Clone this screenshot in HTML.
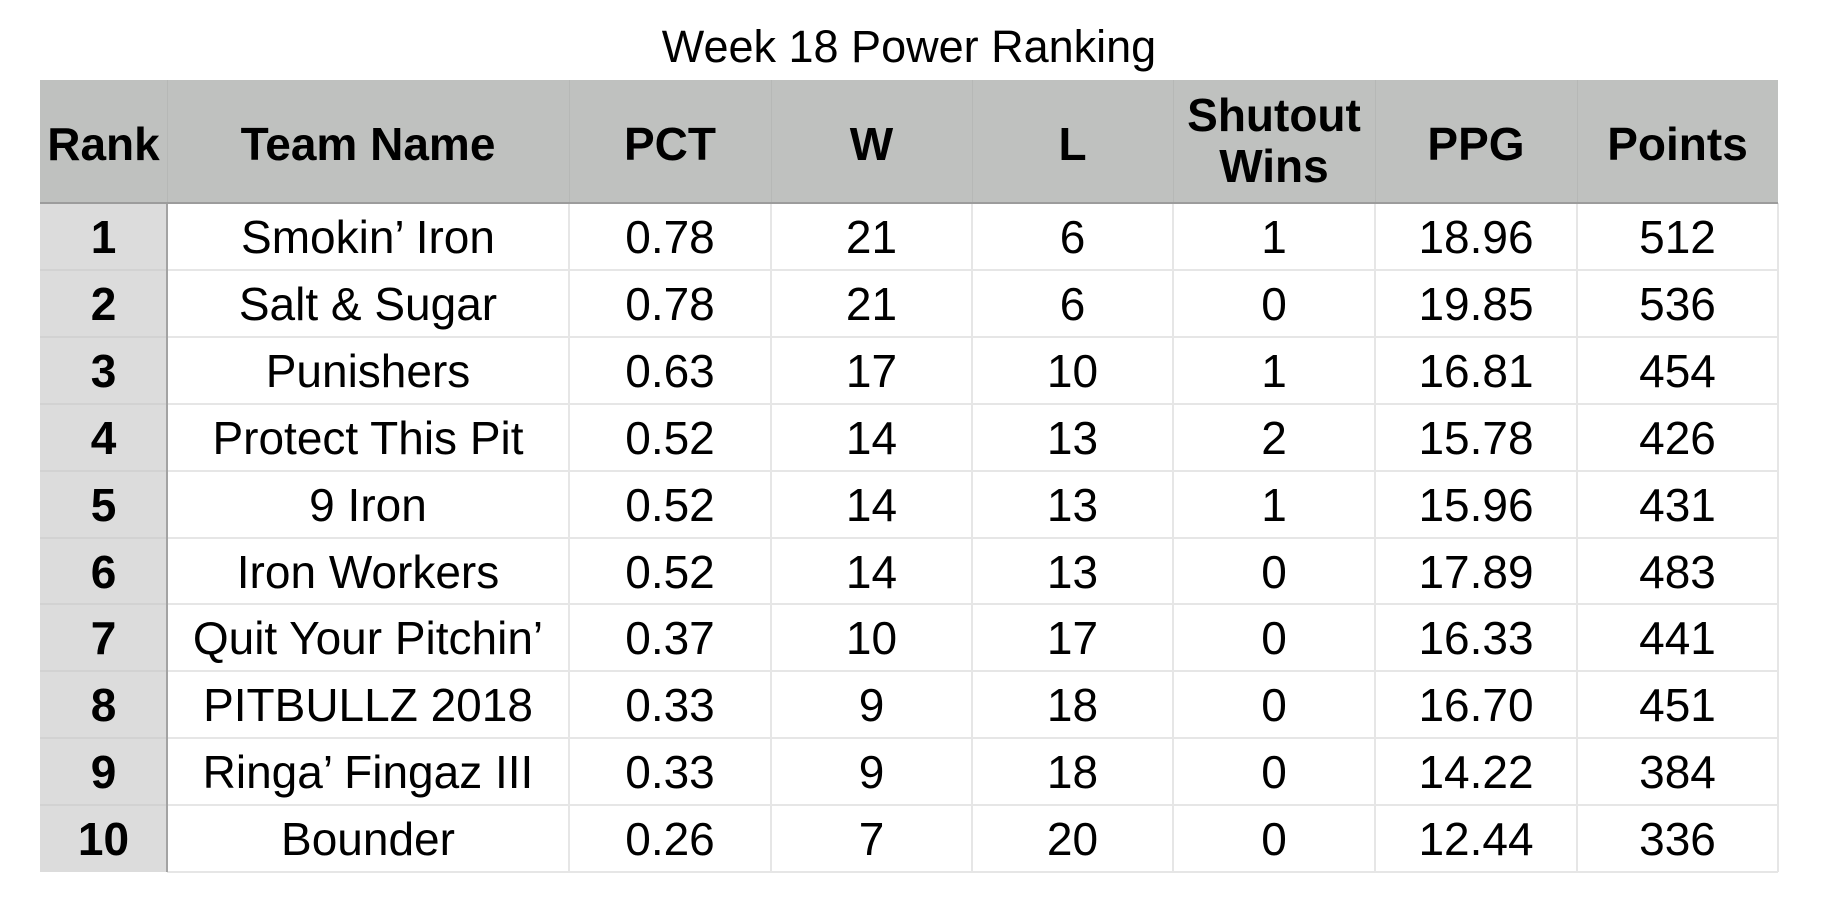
<!DOCTYPE html>
<html>
<head>
<meta charset="utf-8">
<style>
  html, body { margin:0; padding:0; background:#fff; }
  body { width:1822px; height:916px; position:relative; overflow:hidden;
         font-family:"Liberation Sans", Arial, Helvetica, sans-serif; color:#000; }
  .abs { position:absolute; }
  .title { position:absolute; left:0; width:1818px; top:22px; text-align:center;
           font-size:45px; line-height:50px; }
  .hdrbg { left:40px; top:80px; width:1738px; height:123px; background:#bfc1bf; }
  .rankbg { left:40px; top:203px; width:127px; height:669px; background:#dcdcdc; }
  .hl { position:absolute; height:2px; background:#e6e6e6; }
  .vl { position:absolute; width:2px; background:#e6e6e6; }
  .row { position:absolute; left:40px; display:flex; height:67px; }
  .row span { display:block; text-align:center; font-size:46px; line-height:67px; height:67px; white-space:nowrap; }
  .hrow { position:absolute; left:40px; top:80px; display:flex; height:123px; }
  .hrow span { display:block; text-align:center; font-size:46px; font-weight:bold;
               line-height:123px; padding-top:3px; height:120px; white-space:nowrap; }
  .hrow span.two { line-height:51px; padding-top:10px; height:113px; }
  .w0 { width:127px; } .w1 { width:402px; }
  .w2 { width:202px; } .w3 { width:201px; } .w4 { width:201px; }
  .w5 { width:202px; } .w6 { width:202px; } .w7 { width:201px; }
  .b { font-weight:bold; }
</style>
</head>
<body>
<div class="title">Week 18 Power Ranking</div>

<div class="abs hdrbg"></div>
<div class="abs rankbg"></div>

<!-- header separators -->
<div class="abs" style="left:167px;top:80px;width:1px;height:123px;background:#b6b8b6;"></div>
<div class="abs" style="left:569px;top:80px;width:1px;height:123px;background:#b6b8b6;"></div>
<div class="abs" style="left:771px;top:80px;width:1px;height:123px;background:#b6b8b6;"></div>
<div class="abs" style="left:972px;top:80px;width:1px;height:123px;background:#b6b8b6;"></div>
<div class="abs" style="left:1173px;top:80px;width:1px;height:123px;background:#b6b8b6;"></div>
<div class="abs" style="left:1375px;top:80px;width:1px;height:123px;background:#b6b8b6;"></div>
<div class="abs" style="left:1577px;top:80px;width:1px;height:123px;background:#b6b8b6;"></div>

<!-- body horizontal lines -->
<div class="hl" style="left:167px;width:1611px;top:269px;"></div>
<div class="hl" style="left:167px;width:1611px;top:336px;"></div>
<div class="hl" style="left:167px;width:1611px;top:403px;"></div>
<div class="hl" style="left:167px;width:1611px;top:470px;"></div>
<div class="hl" style="left:167px;width:1611px;top:537px;"></div>
<div class="hl" style="left:167px;width:1611px;top:603px;"></div>
<div class="hl" style="left:167px;width:1611px;top:670px;"></div>
<div class="hl" style="left:167px;width:1611px;top:737px;"></div>
<div class="hl" style="left:167px;width:1611px;top:804px;"></div>
<div class="hl" style="left:167px;width:1611px;top:871px;"></div>
<!-- rank column horizontal lines -->
<div class="hl" style="left:40px;width:127px;top:269px;background:#d2d2d2;"></div>
<div class="hl" style="left:40px;width:127px;top:336px;background:#d2d2d2;"></div>
<div class="hl" style="left:40px;width:127px;top:403px;background:#d2d2d2;"></div>
<div class="hl" style="left:40px;width:127px;top:470px;background:#d2d2d2;"></div>
<div class="hl" style="left:40px;width:127px;top:537px;background:#d2d2d2;"></div>
<div class="hl" style="left:40px;width:127px;top:603px;background:#d2d2d2;"></div>
<div class="hl" style="left:40px;width:127px;top:670px;background:#d2d2d2;"></div>
<div class="hl" style="left:40px;width:127px;top:737px;background:#d2d2d2;"></div>
<div class="hl" style="left:40px;width:127px;top:804px;background:#d2d2d2;"></div>

<!-- body vertical lines -->
<div class="vl" style="left:568px;top:203px;height:669px;"></div>
<div class="vl" style="left:770px;top:203px;height:669px;"></div>
<div class="vl" style="left:971px;top:203px;height:669px;"></div>
<div class="vl" style="left:1172px;top:203px;height:669px;"></div>
<div class="vl" style="left:1374px;top:203px;height:669px;"></div>
<div class="vl" style="left:1576px;top:203px;height:669px;"></div>
<div class="vl" style="left:1777px;top:203px;height:669px;"></div>

<!-- strong lines -->
<div class="abs" style="left:166px;top:203px;width:2px;height:669px;background:#a3a3a3;"></div>
<div class="abs" style="left:40px;top:202px;width:1738px;height:2px;background:#9c9c9c;"></div>

<!-- header text -->
<div class="hrow">
  <span class="w0">Rank</span>
  <span class="w1">Team Name</span>
  <span class="w2">PCT</span>
  <span class="w3">W</span>
  <span class="w4">L</span>
  <span class="w5 two">Shutout<br>Wins</span>
  <span class="w6">PPG</span>
  <span class="w7">Points</span>
</div>

<!-- rows -->
<div class="row" style="top:204px;"><span class="w0 b">1</span><span class="w1">Smokin’ Iron</span><span class="w2">0.78</span><span class="w3">21</span><span class="w4">6</span><span class="w5">1</span><span class="w6">18.96</span><span class="w7">512</span></div>
<div class="row" style="top:271px;"><span class="w0 b">2</span><span class="w1">Salt &amp; Sugar</span><span class="w2">0.78</span><span class="w3">21</span><span class="w4">6</span><span class="w5">0</span><span class="w6">19.85</span><span class="w7">536</span></div>
<div class="row" style="top:338px;"><span class="w0 b">3</span><span class="w1">Punishers</span><span class="w2">0.63</span><span class="w3">17</span><span class="w4">10</span><span class="w5">1</span><span class="w6">16.81</span><span class="w7">454</span></div>
<div class="row" style="top:405px;"><span class="w0 b">4</span><span class="w1">Protect This Pit</span><span class="w2">0.52</span><span class="w3">14</span><span class="w4">13</span><span class="w5">2</span><span class="w6">15.78</span><span class="w7">426</span></div>
<div class="row" style="top:472px;"><span class="w0 b">5</span><span class="w1">9 Iron</span><span class="w2">0.52</span><span class="w3">14</span><span class="w4">13</span><span class="w5">1</span><span class="w6">15.96</span><span class="w7">431</span></div>
<div class="row" style="top:539px;"><span class="w0 b">6</span><span class="w1">Iron Workers</span><span class="w2">0.52</span><span class="w3">14</span><span class="w4">13</span><span class="w5">0</span><span class="w6">17.89</span><span class="w7">483</span></div>
<div class="row" style="top:605px;"><span class="w0 b">7</span><span class="w1">Quit Your Pitchin’</span><span class="w2">0.37</span><span class="w3">10</span><span class="w4">17</span><span class="w5">0</span><span class="w6">16.33</span><span class="w7">441</span></div>
<div class="row" style="top:672px;"><span class="w0 b">8</span><span class="w1">PITBULLZ 2018</span><span class="w2">0.33</span><span class="w3">9</span><span class="w4">18</span><span class="w5">0</span><span class="w6">16.70</span><span class="w7">451</span></div>
<div class="row" style="top:739px;"><span class="w0 b">9</span><span class="w1">Ringa’ Fingaz III</span><span class="w2">0.33</span><span class="w3">9</span><span class="w4">18</span><span class="w5">0</span><span class="w6">14.22</span><span class="w7">384</span></div>
<div class="row" style="top:806px;"><span class="w0 b">10</span><span class="w1">Bounder</span><span class="w2">0.26</span><span class="w3">7</span><span class="w4">20</span><span class="w5">0</span><span class="w6">12.44</span><span class="w7">336</span></div>
</body>
</html>
